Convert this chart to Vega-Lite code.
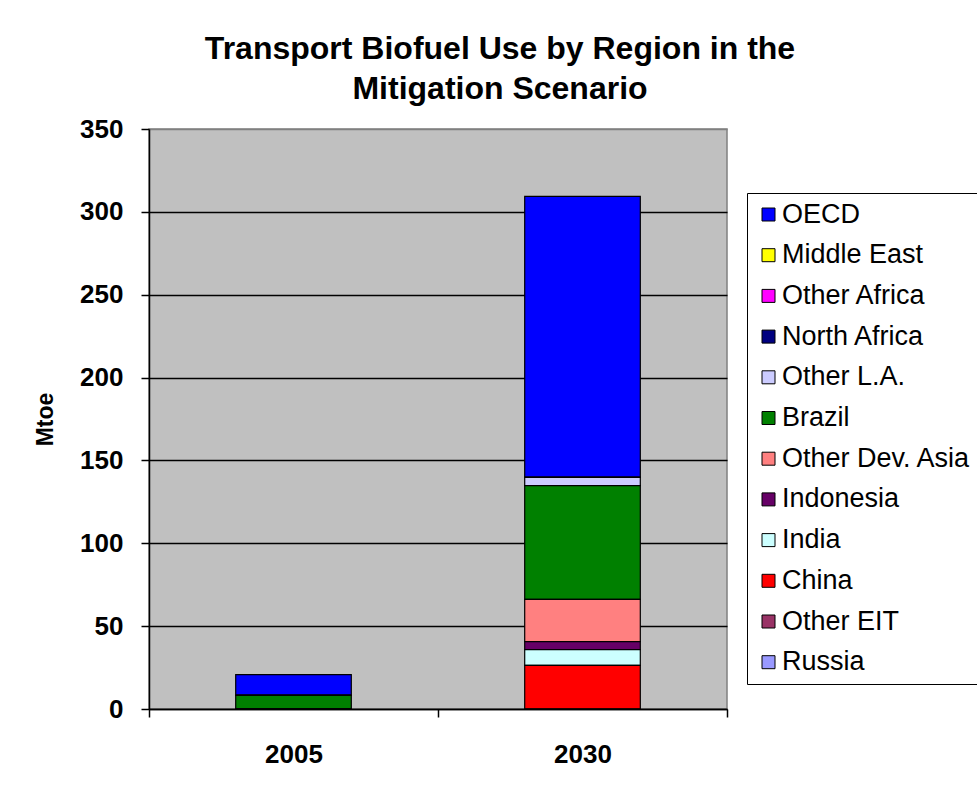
{
  "$schema": "https://vega.github.io/schema/vega-lite/v6.json",
  "autosize": {"type": "none"},
  "width": 578,
  "height": 580,
  "padding": {"left": 149, "top": 129, "right": 250, "bottom": 83},
  "background": "white",
  "title": {
    "text": ["Transport Biofuel Use by Region in the", "Mitigation Scenario"],
    "font": "Liberation Sans",
    "fontSize": 32,
    "fontWeight": "bold",
    "color": "black",
    "anchor": "middle",
    "dx": 62,
    "lineHeight": 40,
    "offset": 10
  },
  "data": {
    "values": [
      {"year": "2005", "region": "OECD", "mtoe": 12.5},
      {"year": "2005", "region": "Middle East", "mtoe": 0},
      {"year": "2005", "region": "Other Africa", "mtoe": 0},
      {"year": "2005", "region": "North Africa", "mtoe": 0},
      {"year": "2005", "region": "Other L.A.", "mtoe": 0},
      {"year": "2005", "region": "Brazil", "mtoe": 8.2},
      {"year": "2005", "region": "Other Dev. Asia", "mtoe": 0},
      {"year": "2005", "region": "Indonesia", "mtoe": 0},
      {"year": "2005", "region": "India", "mtoe": 0},
      {"year": "2005", "region": "China", "mtoe": 0},
      {"year": "2005", "region": "Other EIT", "mtoe": 0},
      {"year": "2005", "region": "Russia", "mtoe": 0},
      {"year": "2030", "region": "OECD", "mtoe": 169.6},
      {"year": "2030", "region": "Middle East", "mtoe": 0},
      {"year": "2030", "region": "Other Africa", "mtoe": 0},
      {"year": "2030", "region": "North Africa", "mtoe": 0},
      {"year": "2030", "region": "Other L.A.", "mtoe": 5.0},
      {"year": "2030", "region": "Brazil", "mtoe": 68.7},
      {"year": "2030", "region": "Other Dev. Asia", "mtoe": 25.5},
      {"year": "2030", "region": "Indonesia", "mtoe": 4.8},
      {"year": "2030", "region": "India", "mtoe": 9.5},
      {"year": "2030", "region": "China", "mtoe": 26.3},
      {"year": "2030", "region": "Other EIT", "mtoe": 0},
      {"year": "2030", "region": "Russia", "mtoe": 0}
    ]
  },
  "transform": [
    {
      "calculate": "indexof(['OECD','Middle East','Other Africa','North Africa','Other L.A.','Brazil','Other Dev. Asia','Indonesia','India','China','Other EIT','Russia'], datum.region)",
      "as": "stackIndex"
    }
  ],
  "mark": {"type": "bar", "stroke": "black", "strokeWidth": 1.2, "width": {"band": 0.4}},
  "encoding": {
    "x": {
      "field": "year",
      "type": "nominal",
      "scale": {"paddingInner": 0, "paddingOuter": 0},
      "axis": {
        "title": null,
        "labelAngle": 0,
        "labelFontSize": 26,
        "labelFontWeight": "bold",
        "labelColor": "black",
        "labelPadding": 24,
        "tickBand": "extent",
        "tickSize": 8,
        "tickColor": "black",
        "tickWidth": 1.5,
        "domainColor": "black",
        "domainWidth": 1.5,
        "grid": false
      }
    },
    "y": {
      "field": "mtoe",
      "type": "quantitative",
      "stack": "zero",
      "scale": {"domain": [0, 350], "nice": false},
      "axis": {
        "title": "Mtoe",
        "titleFontSize": 23,
        "titleFontWeight": "bold",
        "titleColor": "black",
        "titlePadding": 22,
        "values": [0, 50, 100, 150, 200, 250, 300, 350],
        "labelFontSize": 26,
        "labelFontWeight": "bold",
        "labelColor": "black",
        "labelPadding": 18,
        "tickSize": 8,
        "tickColor": "black",
        "tickWidth": 1.5,
        "domainColor": "black",
        "domainWidth": 1.5,
        "grid": true,
        "gridColor": {"condition": {"test": "datum.value === 350", "value": "#808080"}, "value": "black"},
        "gridWidth": 1.5
      }
    },
    "color": {
      "field": "region",
      "type": "nominal",
      "scale": {
        "domain": ["OECD", "Middle East", "Other Africa", "North Africa", "Other L.A.", "Brazil", "Other Dev. Asia", "Indonesia", "India", "China", "Other EIT", "Russia"],
        "range": ["#0000FF", "#FFFF00", "#FF00FF", "#000080", "#CCCCFF", "#008000", "#FF8080", "#660066", "#CCFFFF", "#FF0000", "#993366", "#9999FF"]
      },
      "legend": {
        "title": null,
        "orient": "none",
        "legendX": 598,
        "legendY": 64,
        "padding": 8,
        "strokeColor": "black",
        "fillColor": "white",
        "labelFontSize": 27,
        "labelColor": "black",
        "labelLimit": 400,
        "labelOffset": 0,
        "rowPadding": 12.7,
        "symbolType": "square",
        "symbolSize": 169,
        "symbolStrokeColor": "black",
        "symbolStrokeWidth": 1,
        "symbolOpacity": 1
      }
    },
    "order": {"field": "stackIndex", "type": "quantitative", "sort": "descending"}
  },
  "config": {
    "font": "Liberation Sans",
    "view": {"fill": "#C0C0C0", "stroke": "#808080", "strokeWidth": 1.5}
  }
}
